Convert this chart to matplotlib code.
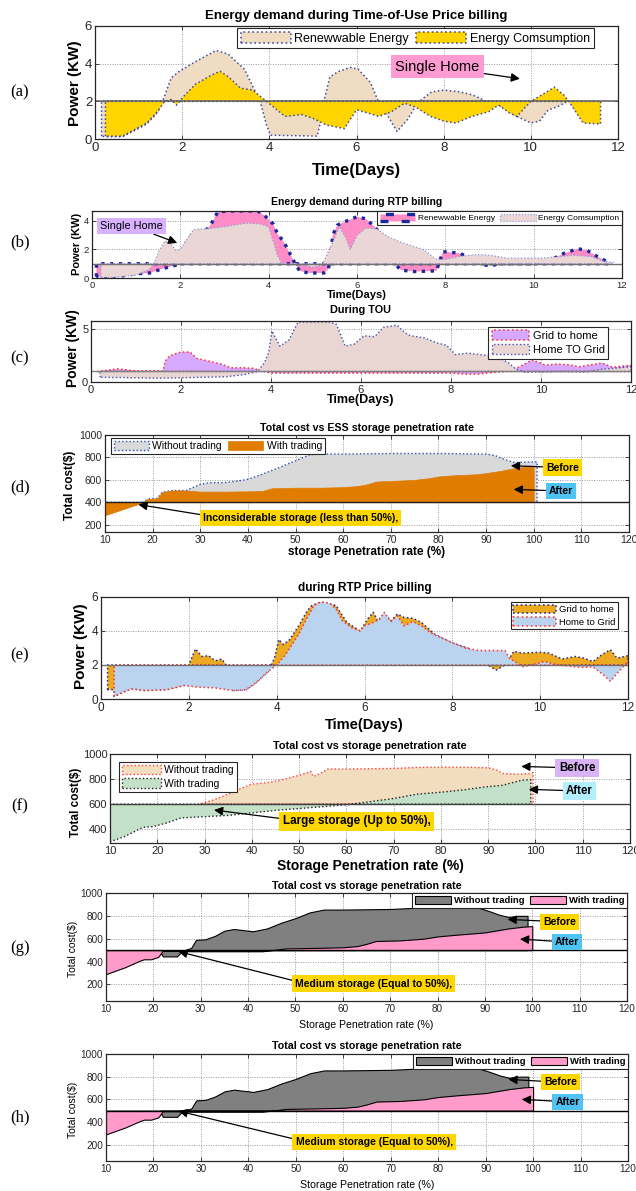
import matplotlib
matplotlib.use('Agg')
import matplotlib.pyplot as plt

W, H = 636, 1191
plt.rcParams['font.family'] = ['Liberation Sans', 'DejaVu Sans']

# ---------------- data ----------------
# (a) Time-of-Use
a_ren_x = [0.15, 0.24, 0.63, 0.91, 1.19, 1.43, 1.55, 1.75, 1.94, 2.3, 2.78, 3.06, 3.43, 3.66, 3.8, 3.94, 4.03, 4.5, 5.1, 5.2, 5.25, 5.39, 5.6, 5.86, 6.04, 6.32, 6.5, 6.7, 6.93, 7.16, 7.4, 7.55, 7.72, 8.0, 8.37, 8.65, 8.98, 9.26, 9.68, 10.0, 10.2, 10.4, 10.6, 10.84]
a_ren_y = [0.15, 0.12, 0.12, 0.45, 0.8, 1.4, 2.0, 3.25, 3.6, 4.1, 4.7, 4.5, 3.7, 2.6, 1.9, 0.7, 0.2, 0.18, 0.15, 1.2, 2.0, 3.3, 3.6, 3.8, 3.7, 3.0, 2.0, 1.3, 0.4, 1.0, 1.9, 2.2, 2.5, 2.6, 2.5, 2.35, 2.0, 1.8, 1.2, 0.85, 0.95, 1.55, 1.7, 2.0]
a_con_x = [0.24, 0.63, 0.91, 1.19, 1.43, 1.6, 1.75, 1.87, 2.03, 2.3, 2.68, 2.87, 3.06, 3.34, 3.62, 3.8, 3.99, 4.36, 4.74, 5.0, 5.3, 5.72, 6.0, 6.23, 6.51, 6.8, 7.1, 7.35, 7.7, 8.0, 8.28, 8.65, 9.03, 9.26, 9.5, 9.68, 10.0, 10.33, 10.54, 10.75, 10.9, 11.2, 11.6]
a_con_y = [0.15, 0.15, 0.5, 0.85, 1.45, 2.0, 2.1, 1.8, 2.25, 2.9, 3.4, 3.6, 3.3, 2.7, 2.6, 2.25, 1.9, 1.2, 1.3, 1.1, 0.75, 0.55, 1.55, 1.4, 1.2, 1.45, 1.9, 1.7, 1.2, 0.95, 0.85, 1.2, 1.45, 1.8, 1.4, 1.2, 2.0, 2.45, 2.75, 2.35, 1.9, 0.85, 0.8]

# (b) RTP
b_ren_x = [0.1, 0.5, 1.0, 1.3, 1.6, 1.9, 1.95, 2.1, 2.3, 2.6, 2.7, 2.85, 3.2, 3.75, 3.9, 4.1, 4.2, 4.35, 4.5, 4.6, 4.7, 4.9, 5.25, 5.35, 5.4, 5.45, 5.55, 5.8, 6.0, 6.2, 6.4, 6.55, 6.7, 6.85, 7.0, 7.3, 7.8, 7.85, 7.95, 8.3, 8.6, 8.8, 8.85, 9.1, 9.2, 10.0, 10.4, 10.7, 11.0, 11.2, 11.5, 11.7]
b_ren_y = [0.1, 0.05, 0.3, 0.35, 0.65, 0.9, 1.0, 2.3, 3.2, 3.4, 3.8, 4.65, 4.7, 4.7, 4.4, 3.8, 3.1, 2.5, 1.6, 1.0, 0.5, 0.35, 0.35, 0.6, 1.5, 3.0, 3.7, 4.05, 4.3, 4.15, 3.6, 3.0, 2.2, 1.0, 0.55, 0.45, 0.5, 1.0, 1.85, 1.75, 1.4, 1.0, 0.9, 0.9, 1.0, 1.0, 1.3, 1.75, 2.05, 1.95, 1.4, 1.1]
b_con_x = [0.2, 0.5, 1.0, 1.3, 1.4, 1.5, 1.65, 1.75, 1.9, 2.0, 2.1, 2.3, 2.6, 3.0, 3.5, 3.8, 4.0, 4.2, 4.3, 4.5, 4.8, 5.0, 5.2, 5.3, 5.45, 5.6, 5.75, 5.85, 6.0, 6.2, 6.45, 6.7, 7.0, 7.5, 7.8, 8.0, 8.3, 8.7, 9.0, 9.4, 9.8, 10.2, 10.6, 10.9, 11.3, 11.6, 11.8]
b_con_y = [0.05, 0.05, 0.2, 0.6, 1.0, 1.8, 2.6, 2.5, 1.95, 2.0, 2.5, 3.4, 3.45, 3.6, 3.85, 3.8, 3.6, 1.6, 1.0, 0.9, 0.9, 0.75, 0.9, 1.5, 2.5, 3.6, 2.8, 2.0, 3.0, 3.5, 3.45, 2.9, 2.5, 2.0, 1.3, 1.3, 1.5, 1.65, 1.6, 1.4, 1.4, 1.4, 1.5, 1.6, 1.5, 1.15, 1.1]

# (c) During TOU
c_g2h_x = [0.15, 0.5, 0.6, 0.8, 1.0, 1.6, 1.65, 1.75, 2.0, 2.2, 2.35, 2.6, 2.9, 3.1, 3.4, 3.6, 3.8, 4.0, 8.0, 8.3, 8.6, 9.0, 9.2, 9.45, 9.63, 9.8, 10.1, 10.35, 10.6, 10.85, 11.2, 11.35, 11.6, 12.0]
c_g2h_y = [1.0, 1.2, 1.25, 1.15, 1.05, 1.05, 2.0, 2.5, 2.85, 2.85, 2.25, 2.0, 1.7, 1.35, 1.35, 1.3, 1.05, 0.85, 0.85, 0.75, 0.75, 0.95, 1.0, 1.3, 1.7, 2.1, 1.6, 1.7, 1.65, 1.45, 1.7, 1.8, 1.4, 1.6]
c_h2g_x = [0.2, 1.0, 1.5, 2.0, 3.0, 3.4, 3.7, 3.85, 3.95, 4.02, 4.2, 4.4, 4.6, 5.3, 5.45, 5.65, 5.85, 6.07, 6.3, 6.5, 6.8, 6.97, 7.1, 7.4, 7.7, 7.9, 8.1, 8.37, 8.64, 9.0, 9.27, 9.45, 9.63, 10.0, 10.5, 11.0, 11.35, 12.0]
c_h2g_y = [0.45, 0.4, 0.35, 0.4, 0.5, 0.7, 1.0, 1.8, 2.8, 4.85, 3.4, 4.0, 5.7, 5.7, 5.5, 3.4, 3.6, 4.4, 4.3, 5.2, 5.4, 4.7, 4.4, 4.2, 3.7, 3.5, 2.6, 2.75, 2.6, 2.45, 1.85, 1.2, 0.95, 0.95, 1.0, 0.95, 1.2, 1.45]

# (d) Total cost vs ESS storage penetration rate
d_wo_x = [10, 17, 18, 19, 21, 22, 24, 27, 30, 32, 35, 38, 40, 43, 46, 50, 53, 55, 60, 70, 80, 90, 92, 94, 96, 100, 100.7]
d_wo_y = [285, 385, 400, 430, 435, 490, 505, 505, 560, 575, 575, 590, 605, 650, 700, 770, 825, 830, 830, 835, 835, 830, 815, 780, 755, 760, 760]
d_w_x = [10, 17, 18, 19, 21, 22, 24, 27, 30, 35, 43, 45, 50, 55, 60, 63, 65, 67, 70, 75, 78, 80, 83, 88, 90, 93, 96, 98, 100]
d_w_y = [285, 385, 400, 430, 435, 490, 505, 505, 495, 495, 500, 525, 530, 530, 535, 545, 560, 585, 590, 600, 615, 630, 640, 650, 660, 680, 705, 715, 715]

# (e) during RTP price billing
e_g2h_x = [0.15, 0.29, 0.3, 0.5, 0.7, 1.0, 1.5, 1.9, 2.0, 2.15, 2.3, 2.45, 2.6, 2.75, 2.85, 3.0, 3.3, 3.5, 3.8, 3.95, 4.05, 4.15, 4.3, 4.5, 4.7, 4.8, 5.0, 5.2, 5.35, 5.45, 5.6, 5.9, 6.1, 6.2, 6.3, 6.45, 6.6, 6.75, 6.9, 7.1, 7.3, 7.6, 8.0, 8.4, 8.7, 8.8, 9.0, 9.2, 9.4, 9.6, 10.0, 10.2, 10.5, 10.8, 11.0, 11.2, 11.4, 11.6, 11.75, 12.0]
e_g2h_y = [0.55, 0.55, 0.15, 0.4, 0.6, 0.5, 0.55, 0.8, 2.0, 2.95, 2.5, 2.55, 2.25, 2.35, 2.0, 0.5, 0.55, 0.9, 1.6, 2.4, 3.5, 3.2, 3.5, 4.3, 5.2, 5.5, 5.7, 5.6, 5.5, 5.1, 4.5, 4.0, 4.8, 5.1, 4.6, 5.0, 4.6, 5.0, 4.8, 4.75, 4.5, 3.8, 3.3, 2.95, 2.2, 2.0, 1.7, 2.0, 2.8, 2.7, 2.75, 2.7, 2.35, 2.5, 2.4, 2.2, 2.6, 2.9, 2.4, 2.55]
e_h2g_x = [0.3, 0.5, 0.7, 1.0, 1.5, 1.9, 2.2, 2.6, 3.0, 3.3, 3.5, 3.8, 4.0, 4.2, 4.5, 4.7, 4.85, 5.0, 5.2, 5.35, 5.5, 5.7, 5.9, 6.0, 6.2, 6.35, 6.45, 6.6, 6.75, 6.9, 7.1, 7.3, 7.5, 8.0, 8.3, 8.6, 9.2, 9.3, 9.6, 9.8, 10.1, 10.4, 10.8, 11.0, 11.2, 11.4, 11.6, 11.75, 12.0]
e_h2g_y = [0.15, 0.4, 0.6, 0.5, 0.55, 0.8, 0.7, 0.65, 0.5, 0.55, 0.9, 1.6, 2.0, 2.6, 3.8, 4.8, 5.5, 5.7, 5.65, 5.3, 4.6, 4.2, 4.0, 4.3, 4.5, 4.7, 5.1, 4.55, 4.9, 4.3, 4.55, 4.3, 3.9, 3.3, 3.0, 2.85, 2.85, 2.4, 1.9, 2.0, 2.2, 2.0, 1.9, 1.85, 1.9, 1.5, 1.05, 1.5, 2.2]

# (f) Total cost vs storage penetration rate (large storage)
f_wo_x = [29, 32, 35, 38, 40, 43, 46, 50, 52.5, 53, 55, 56, 60, 70, 75, 80, 85, 90, 92, 93, 95, 97, 99, 99.5]
f_wo_y = [600, 635, 680, 730, 760, 770, 790, 830, 860, 820, 855, 880, 880, 885, 893, 895, 895, 890, 870, 845, 840, 840, 845, 850]
f_w_x = [10, 13, 17, 19, 22, 25, 30, 35, 40, 45, 50, 55, 60, 65, 70, 75, 80, 85, 90, 93, 95, 97, 98.5, 99]
f_w_y = [300, 340, 415, 420, 450, 490, 500, 510, 530, 550, 565, 580, 595, 620, 645, 680, 695, 715, 740, 750, 770, 790, 795, 795]

# (g)/(h) Total cost vs storage penetration rate (medium storage)
g_wo_x = [21.5, 22, 25, 26, 28, 29, 31, 33, 35, 37, 39, 41, 44, 47, 50, 53, 56, 60, 70, 75, 80, 88, 91, 93, 95, 97, 99]
g_wo_y = [480, 445, 445, 490, 520, 590, 595, 625, 670, 685, 675, 665, 690, 740, 780, 830, 855, 855, 860, 870, 880, 880, 840, 810, 790, 800, 800]
g_w_x = [10, 14, 17, 18, 19.5, 21, 22, 25, 28, 30, 35, 43, 45, 48, 55, 60, 63, 65, 67, 72, 77, 80, 84, 90, 95, 98, 100]
g_w_y = [290, 350, 405, 420, 420, 440, 495, 495, 490, 490, 490, 490, 500, 515, 520, 525, 535, 555, 580, 585, 600, 620, 635, 655, 690, 705, 710]

days_ticks = [0, 2, 4, 6, 8, 10, 12]
rate_ticks = list(range(10, 121, 10))

# ---------------- helpers ----------------
fig = plt.figure(figsize=(W / 100, H / 100), dpi=100)
DARK = '#262626'


def add_ax(box):
    l, r, t, b = box
    return fig.add_axes([l / W, 1 - b / H, (r - l) / W, (b - t) / H])


def fx(box, px):
    l, r, t, b = box
    return (px - l) / (r - l)


def fy(box, py):
    l, r, t, b = box
    return (b - py) / (b - t)


def style(ax, box, xlim, ylim, xticks, yticks, tfs):
    ax.set_xlim(xlim)
    ax.set_ylim(ylim)
    ax.set_xticks(xticks)
    ax.set_yticks(yticks)
    ax.tick_params(direction='in', length=3, width=0.6, top=True, right=True,
                   labelsize=tfs, colors=DARK, pad=2)
    for s in ax.spines.values():
        s.set_linewidth(0.9)
        s.set_color(DARK)
    ax.grid(True, linestyle=(0, (1, 1.5)), color='#9a9a9a', linewidth=0.7)
    ax.set_axisbelow(True)


def labels(ax, box, title, tcy, tfs, xl, xcy, xfs, yl, ycx, ycy, yfs, bold=True):
    w = 'bold' if bold else 'normal'
    ax.set_title(title, fontsize=tfs, fontweight='bold', y=fy(box, tcy), va='center', pad=0)
    ax.set_xlabel(xl, fontsize=xfs, fontweight=w, va='center')
    ax.xaxis.set_label_coords(0.5, fy(box, xcy))
    ax.set_ylabel(yl, fontsize=yfs, fontweight=w, va='center')
    ax.yaxis.set_label_coords(fx(box, ycx), fy(box, ycy))


def leg(ax, box, anchor_px, loc, ncol, fs, hl, hh=1.0, bold=False):
    if anchor_px is None:
        anchor = (1, 1)
    else:
        anchor = (fx(box, anchor_px[0]), fy(box, anchor_px[1]))
    lg = ax.legend(loc=loc, bbox_to_anchor=anchor, ncol=ncol,
                   handlelength=hl, handleheight=hh, borderaxespad=0, fancybox=False,
                   framealpha=1, edgecolor=DARK, borderpad=0.3, labelspacing=0.3,
                   handletextpad=0.3, columnspacing=0.6,
                   prop={'size': fs, 'weight': 'bold' if bold else 'normal'})
    lg.get_frame().set_linewidth(0.8)
    return lg


def note(ax, text, xy, xytext, fc, fs, relpos=(0.5, 0.5), weight='bold'):
    ax.annotate(text, xy=xy, xytext=xytext, ha='center', va='center', fontsize=fs,
                fontweight=weight, bbox=dict(boxstyle='square,pad=0.3', fc=fc, ec='none'),
                arrowprops=dict(arrowstyle='-|>', color='black', lw=0.9, mutation_scale=13,
                                shrinkA=0, shrinkB=0, relpos=relpos))


def panel_label(txt, cy):
    fig.text(20 / W, 1 - cy / H, txt, ha='center', va='center', fontsize=12,
             family=['Liberation Serif', 'DejaVu Serif'])


GOLD = '#FFD700'
BLUEBOX = '#4FC3F3'

# ---------------- (a) ----------------
box = (95, 618, 26, 139)
ax = add_ax(box)
ax.fill_between(a_ren_x, 2, a_ren_y, facecolor='#EFDCC2', edgecolor='#3a4aa0',
                linestyle=':', linewidth=1.1, label='Renewwable Energy')
ax.fill_between(a_con_x, 2, a_con_y, facecolor='#FFD400', edgecolor='#3a4aa0',
                linestyle=':', linewidth=1.1, label='Energy Comsumption')
ax.axhline(2, color='#606060', lw=1.1)
style(ax, box, (0, 12), (0, 6), days_ticks, [0, 2, 4, 6], 9.5)
labels(ax, box, 'Energy demand during Time-of-Use Price billing', 16, 9.5,
       'Time(Days)', 170, 12, 'Power (KW)', 75.5, 83, 11)
leg(ax, box, (594, 28), 'upper right', 2, 9, 4.0)
note(ax, 'Single Home', (9.75, 3.2), (7.86, 3.83), '#FF9BD2', 10.5, weight='normal')
panel_label('(a)', 92)

# ---------------- (b) ----------------
box = (92, 622, 211, 278)
ax = add_ax(box)
ax.fill_between(b_ren_x, 1, b_ren_y, facecolor='#FF8CC6', edgecolor='#1a2a9a',
                linestyle=':', linewidth=2.4, label='Renewwable Energy')
ax.fill_between(b_con_x, 1, b_con_y, facecolor='#EBD6D6', edgecolor='#8c9ad0',
                linestyle=':', linewidth=0.9, label='Energy Comsumption')
ax.axhline(1, color='#707070', lw=1.0)
style(ax, box, (0, 12), (0, 4.7), days_ticks, [0, 2, 4], 6.8)
labels(ax, box, 'Energy demand during RTP billing', 202, 7.5,
       'Time(Days)', 295, 8, 'Power (KW)', 77, 244, 8)
leg(ax, box, None, 'upper right', 2, 6, 4.3)
note(ax, 'Single Home', (1.93, 2.46), (0.9, 3.65), '#D8B2FF', 7.8, weight='normal')
panel_label('(b)', 242)

# ---------------- (c) ----------------
box = (91, 631, 321, 382)
ax = add_ax(box)
ax.fill_between(c_g2h_x, 1, c_g2h_y, facecolor='#D6A8FF', edgecolor='#ff3030',
                linestyle=':', linewidth=1.1, label='Grid to home')
ax.fill_between(c_h2g_x, 1, c_h2g_y, facecolor='#E9D6D3', edgecolor='#4050b0',
                linestyle=':', linewidth=1.0, label='Home TO Grid')
ax.axhline(1, color='#808080', lw=1.0)
style(ax, box, (0, 12), (0, 5.8), days_ticks, [0, 5], 8)
labels(ax, box, 'During TOU', 310, 7.8,
       'Time(Days)', 400, 9, 'Power (KW)', 73.5, 348, 10)
leg(ax, box, (608, 327), 'upper right', 1, 8, 3.4)
panel_label('(c)', 358)

# ---------------- (d) ----------------
box = (105, 629, 435, 532)
ax = add_ax(box)
ax.fill_between(d_wo_x, 400, d_wo_y, facecolor='#D9D9D9', edgecolor='#3050b0',
                linestyle=':', linewidth=1.0, label='Without trading')
ax.fill_between(d_w_x, 400, d_w_y, facecolor='#E07C00', edgecolor='#E07C00',
                linewidth=0.5, label='With trading')
ax.axhline(400, color='#202020', lw=1.0)
style(ax, box, (10, 120), (135, 1000), rate_ticks, [200, 400, 600, 800, 1000], 7.5)
labels(ax, box, 'Total cost vs ESS storage penetration rate', 428, 7.7,
       'storage Penetration rate (%)', 552, 8.5, 'Total cost($)', 70.5, 485, 8.5)
leg(ax, box, (110.5, 438), 'upper left', 2, 7.5, 3.4)
note(ax, 'Before', (95.2, 726), (106, 710), GOLD, 7.5)
note(ax, 'After', (95.8, 515), (105.7, 501), BLUEBOX, 7.5)
note(ax, 'Inconsiderable storage (less than 50%),', (17, 380), (51, 260), GOLD, 7.5, relpos=(0, 0.8))
panel_label('(d)', 487)

# ---------------- (e) ----------------
box = (101, 628, 597, 699)
ax = add_ax(box)
ax.fill_between(e_g2h_x, 2, e_g2h_y, facecolor='#EBAA20', edgecolor='#1a2a9a',
                linestyle=':', linewidth=1.1, label='Grid to home')
ax.fill_between(e_h2g_x, 2, e_h2g_y, facecolor='#BAD4F0', edgecolor='#ff3030',
                linestyle=':', linewidth=1.1, label='Home to Grid')
ax.axhline(2, color='#707070', lw=1.0)
style(ax, box, (0, 12), (0, 6), days_ticks, [0, 2, 4, 6], 8.5)
labels(ax, box, 'during RTP Price billing', 588, 8.5,
       'Time(Days)', 725, 10.5, 'Power (KW)', 81, 646, 11)
leg(ax, box, (618, 602), 'upper right', 1, 6.8, 4.5)
panel_label('(e)', 655)

# ---------------- (f) ----------------
box = (110, 630, 754, 843)
ax = add_ax(box)
ax.fill_between(f_wo_x, 600, f_wo_y, facecolor='#F2DDBF', edgecolor='#ff4040',
                linestyle=':', linewidth=1.0, label='Without trading')
ax.fill_between(f_w_x, 600, f_w_y, facecolor='#C3E0C8', edgecolor='#202020',
                linestyle=':', linewidth=1.0, label='With trading')
ax.axhline(600, color='#404040', lw=1.0)
style(ax, box, (10, 120), (290, 1000), rate_ticks, [400, 600, 800, 1000], 8)
labels(ax, box, 'Total cost vs storage penetration rate', 746, 7.8,
       'Storage Penetration rate (%)', 866, 10, 'Total cost($)', 75.5, 802, 8.5)
leg(ax, box, (119, 762), 'upper left', 1, 7.5, 3.7)
note(ax, 'Before', (97, 901), (108.8, 888), '#D9B3F5', 8.3)
note(ax, 'After', (98.6, 718), (109.3, 705), '#B3EEFF', 8.3)
note(ax, 'Large storage (Up to 50%),', (32, 553), (62.2, 464), GOLD, 8.4, relpos=(0, 0.7))
panel_label('(f)', 806)

# ---------------- (g) & (h) ----------------
for box, tcy, xcy, ycy, lab, lcy, bef, aft, med in [
        ((106, 627, 893, 1001), 886, 1025, 949, '(g)', 948,
         ((94.8, 769), (105.8, 748)), ((97.4, 597), (107.3, 571)), ((25.3, 488), (66.5, 208))),
        ((106, 628, 1054, 1161), 1046, 1185, 1110, '(h)', 1117,
         ((94.8, 776), (105.8, 750)), ((97.6, 599), (107.3, 578)), ((25.3, 496), (66.5, 224)))]:
    ax = add_ax(box)
    ax.fill_between(g_wo_x, 500, g_wo_y, facecolor='#808080', edgecolor='black',
                    linewidth=0.8, label='Without trading')
    ax.fill_between(g_w_x, 500, g_w_y, facecolor='#FF9BCB', edgecolor='black',
                    linewidth=0.8, label='With trading')
    ax.axhline(500, color='black', lw=1.0)
    style(ax, box, (10, 120), (55, 1000), rate_ticks, [200, 400, 600, 800, 1000], 7.2)
    labels(ax, box, 'Total cost vs storage penetration rate', tcy, 7.7,
           'Storage Penetration rate (%)', xcy, 7.6, 'Total cost($)', 72.5, ycy, 7.5, bold=False)
    leg(ax, box, None, 'upper right', 2, 6.8, 3.8, bold=True)
    note(ax, 'Before', bef[0], bef[1], GOLD, 7.5)
    note(ax, 'After', aft[0], aft[1], BLUEBOX, 7.5)
    note(ax, 'Medium storage (Equal to 50%),', med[0], med[1], GOLD, 7.5, relpos=(0, 0.75))
    panel_label(lab, lcy)

fig.savefig('out.png', dpi=100)
